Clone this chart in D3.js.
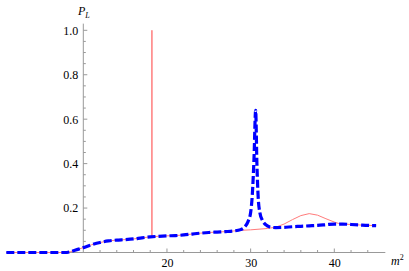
<!DOCTYPE html>
<html>
<head>
<meta charset="utf-8">
<script src="https://cdn.jsdelivr.net/npm/d3@7"></script>
<style>
  body { margin: 0; background: #fff; }
  svg { display: block; }
</style>
</head>
<body>
<svg id="chart" width="409" height="271"></svg>
<script>
// m^2 values and P_L for the dashed (blue) curve
const blueX = [0.8, 4, 7, 7.8, 8.5, 9, 10, 11, 12, 13, 14, 15, 16, 17, 18, 19, 20, 21, 22, 23, 24, 25, 26, 27, 28,
  28.8, 29.3, 29.7, 30.0, 30.2, 30.4, 30.6, 30.75, 30.9, 31.1, 31.4, 31.8, 32.3, 33, 34, 35, 36, 37, 38, 39, 40, 41, 42, 43, 44, 45];
const blueY = [0, 0, 0, 0, 0.004, 0.01, 0.022, 0.035, 0.045, 0.052, 0.056, 0.058, 0.061, 0.066, 0.07, 0.073, 0.075, 0.076, 0.079, 0.083, 0.087, 0.09, 0.092, 0.094, 0.097,
  0.103, 0.115, 0.14, 0.18, 0.26, 0.42, 0.64, 0.40, 0.25, 0.18, 0.145, 0.125, 0.115, 0.112, 0.113, 0.116, 0.118, 0.12, 0.122, 0.125, 0.128, 0.128, 0.126, 0.124, 0.122, 0.121];

// thin (red) curve: same baseline, narrow spike at 18.2, bump near 37
const redX = [0.8, 7.8, 8.5, 9, 10, 11, 12, 13, 14, 15, 16, 17, 18, 18.2, 18.2, 18.2, 19, 20, 21, 22, 23, 24, 25, 26, 27, 28,
  29, 30, 31, 32, 33, 34, 35, 36, 37, 38, 39, 40, 40.5, 41, 42, 43, 44, 45];
const redY = [0, 0, 0.004, 0.01, 0.022, 0.035, 0.045, 0.052, 0.056, 0.058, 0.061, 0.066, 0.07, 0.071, 1.0, 0.071, 0.073, 0.075, 0.076, 0.079, 0.083, 0.087, 0.09, 0.092, 0.094, 0.097,
  0.1, 0.102, 0.105, 0.108, 0.114, 0.128, 0.148, 0.166, 0.175, 0.168, 0.152, 0.137, 0.131, 0.128, 0.126, 0.124, 0.122, 0.121];

const xTicks = [20, 30, 40];
const yTicks = [0.2, 0.4, 0.6, 0.8, 1.0];

const svg = d3.select("#chart");
const serif = "'Liberation Serif', 'DejaVu Serif', serif";

const x = d3.scaleLinear().domain([10, 40]).range([83.3, 334.3]);
const y = d3.scaleLinear().domain([0, 1]).range([252.5, 30.3]);

const xMin = 0.8, xMax = 46.1, yTop = 1.03;

// x axis (spans the plot range, crosses at y=0)
const xAxis = d3.axisBottom(x)
  .tickValues(xTicks)
  .tickSize(0)
  .tickPadding(5)
  .tickFormat(d3.format("d"));

const gx = svg.append("g").attr("transform", "translate(0," + y(0) + ")");
gx.call(xAxis);
gx.select(".domain").remove();
gx.selectAll(".tick text")
  .attr("y", 6).attr("dy", "0.71em")
  .attr("fill", "#000")
  .style("font-family", serif).style("font-size", "12px");
gx.append("line")
  .attr("x1", x(xMin)).attr("x2", x(xMax))
  .attr("stroke", "#999").attr("stroke-width", 1);
// major and minor ticks on x
d3.range(12, 46, 2).forEach(v => {
  const major = v % 10 === 0;
  gx.append("line")
    .attr("x1", x(v)).attr("x2", x(v))
    .attr("y1", 0).attr("y2", major ? -4 : -2.5)
    .attr("stroke", "#999");
});

// y axis (crosses at x=10)
const yAxis = d3.axisLeft(y)
  .tickValues(yTicks)
  .tickSize(0)
  .tickPadding(5)
  .tickFormat(d3.format(".1f"));

const gy = svg.append("g").attr("transform", "translate(" + x(10) + ",0)");
gy.call(yAxis);
gy.select(".domain").remove();
gy.selectAll(".tick text")
  .attr("fill", "#000")
  .style("font-family", serif).style("font-size", "12px");
gy.append("line")
  .attr("y1", y(0)).attr("y2", y(yTop))
  .attr("stroke", "#999").attr("stroke-width", 1);
d3.range(0.05, 1.001, 0.05).forEach(v => {
  const major = Math.abs(v * 5 - Math.round(v * 5)) < 1e-6;
  gy.append("line")
    .attr("y1", y(v)).attr("y2", y(v))
    .attr("x1", 0).attr("x2", major ? 4 : 2.5)
    .attr("stroke", "#999");
});

// axis labels
const pl = svg.append("text")
  .attr("x", 78).attr("y", 15)
  .style("font-family", serif)
  .style("font-style", "italic")
  .style("font-size", "12px");
pl.append("tspan").text("P");
pl.append("tspan").attr("dy", 3).style("font-size", "8px").text("L");

const m2 = svg.append("text")
  .attr("x", 391).attr("y", 265)
  .style("font-family", serif)
  .style("font-style", "italic")
  .style("font-size", "12px");
m2.append("tspan").text("m");
m2.append("tspan").attr("dy", -5).style("font-size", "8px").style("font-style", "normal").text("2");

// curves
const redPts = redX.map((v, i) => [v, redY[i]]);
const bluePts = blueX.map((v, i) => [v, blueY[i]]);

svg.append("path")
  .datum(redPts)
  .attr("fill", "none")
  .attr("stroke", "#ff7b7b")
  .attr("stroke-width", 1)
  .attr("d", d3.line().x(d => x(d[0])).y(d => y(d[1])).curve(d3.curveLinear));

svg.append("path")
  .datum(bluePts)
  .attr("fill", "none")
  .attr("stroke", "#0000ff")
  .attr("stroke-width", 3.2)
  .attr("stroke-dasharray", "8,3")
  .attr("d", d3.line().x(d => x(d[0])).y(d => y(d[1])).curve(d3.curveMonotoneX));
</script>
</body>
</html>
